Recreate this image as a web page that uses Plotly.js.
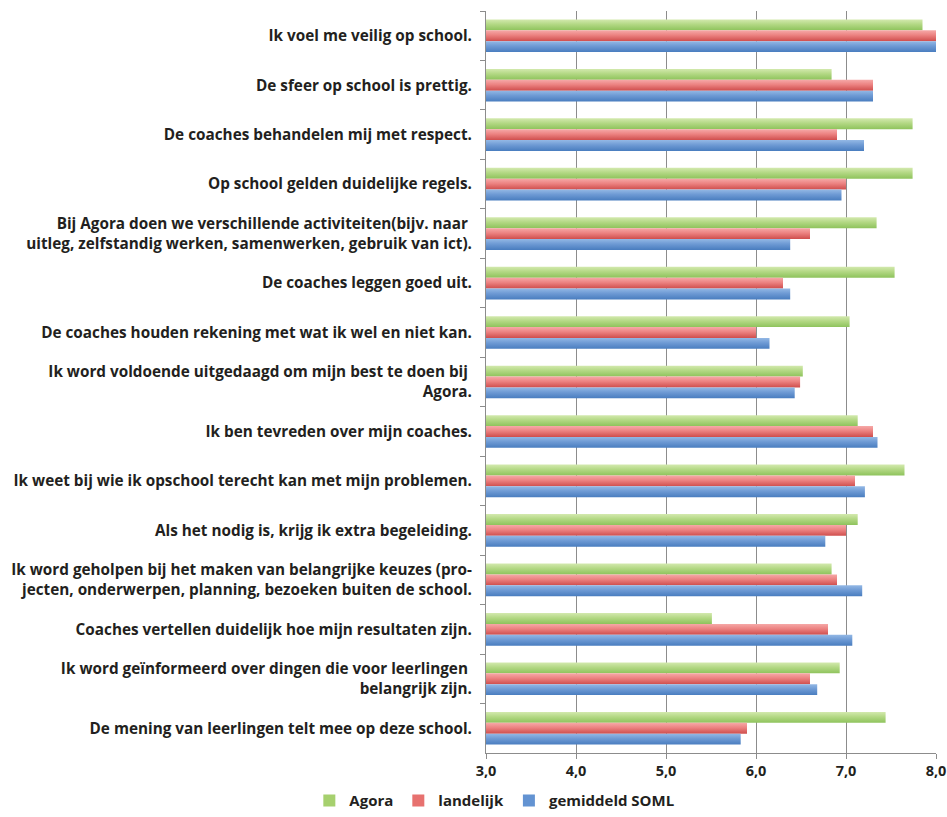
<!DOCTYPE html>
<html>
<head>
<meta charset="utf-8">
<script src="https://cdn.plot.ly/plotly-3.0.1.min.js"></script>
<style>html,body{margin:0;padding:0;background:#fff;}#chart{width:947px;height:817px;}</style>
</head>
<body>
<div id="chart"></div>
<script>
const categories = [
  "Ik voel me veilig op school.",
  "De sfeer op school is prettig.",
  "De coaches behandelen mij met respect.",
  "Op school gelden duidelijke regels.",
  "Bij Agora doen we verschillende activiteiten(bijv. naar <br>uitleg, zelfstandig werken, samenwerken, gebruik van ict).",
  "De coaches leggen goed uit.",
  "De coaches houden rekening met wat ik wel en niet kan.",
  "Ik word voldoende uitgedaagd om mijn best te doen bij <br>Agora.",
  "Ik ben tevreden over mijn coaches.",
  "Ik weet bij wie ik opschool terecht kan met mijn problemen.",
  "Als het nodig is, krijg ik extra begeleiding.",
  "Ik word geholpen bij het maken van belangrijke keuzes (pro-<br>jecten, onderwerpen, planning, bezoeken buiten de school.",
  "Coaches vertellen duidelijk hoe mijn resultaten zijn.",
  "Ik word geïnformeerd over dingen die voor leerlingen <br>belangrijk zijn.",
  "De mening van leerlingen telt mee op deze school."
];
const agora      = [7.85, 6.84, 7.74, 7.74, 7.34, 7.54, 7.04, 6.52, 7.13, 7.65, 7.13, 6.84, 5.51, 6.93, 7.44];
const landelijk  = [8.00, 7.30, 6.90, 7.00, 6.60, 6.30, 6.00, 6.49, 7.30, 7.10, 7.00, 6.90, 6.80, 6.60, 5.90];
const somlGem    = [8.00, 7.30, 7.20, 6.95, 6.38, 6.38, 6.15, 6.43, 7.35, 7.21, 6.77, 7.18, 7.07, 6.68, 5.83];
const seriesNames = ["Agora", "landelijk", "gemiddeld SOML"];
const xTickVals = [3, 4, 5, 6, 7, 8];
const xTickText = ["3,0", "4,0", "5,0", "6,0", "7,0", "8,0"];

const colors = ["#A6D06E", "#E7716F", "#6393D2"];
const gradStops = [
  ["#D3E9AE", "#B3D884", "#8EC35C"],
  ["#F6A9A8", "#EC8281", "#CF4E4D"],
  ["#93B8E5", "#6E9AD4", "#497DBF"]
];
const series = [agora, landelijk, somlGem];

const fam = "'Open Sans', 'Noto Sans', sans-serif";
const font = {family: fam, color: "#231F20", size: 15.3, weight: 700};

const data = series.map((vals, i) => ({
  type: "bar",
  orientation: "h",
  name: seriesNames[i],
  y: categories,
  x: vals,
  base: 0,
  marker: {color: colors[i], line: {width: 0}},
  hoverinfo: "x+name"
}));

const layout = {
  width: 947,
  height: 817,
  margin: {l: 486, r: 11, t: 11, b: 64},
  paper_bgcolor: "#fff",
  plot_bgcolor: "#fff",
  font: font,
  barmode: "group",
  bargap: 0.34,
  bargroupgap: 0,
  showlegend: true,
  legend: {
    orientation: "h",
    xref: "container", yref: "container",
    x: 0.522, y: 0.02,
    xanchor: "center", yanchor: "middle",
    font: {family: fam, size: 15, color: "#231F20", weight: 700},
    itemwidth: 30,
    traceorder: "normal"
  },
  xaxis: {
    range: [3, 8],
    tickvals: xTickVals,
    ticktext: xTickText,
    ticklabeloverflow: "allow",
    showgrid: true,
    gridcolor: "#8C8C8C",
    gridwidth: 1,
    showline: true,
    linecolor: "#8C8C8C",
    linewidth: 1,
    ticks: "outside",
    ticklen: 5,
    tickcolor: "#8C8C8C",
    tickfont: {family: fam, size: 14.5, color: "#231F20", weight: 700},
    zeroline: false,
    fixedrange: true
  },
  yaxis: {
    type: "category",
    autorange: "reversed",
    showgrid: false,
    showline: true,
    linecolor: "#8C8C8C",
    linewidth: 1,
    ticks: "outside",
    ticklen: 5,
    tickcolor: "#8C8C8C",
    tickson: "boundaries",
    ticklabelstandoff: 10,
    tickfont: {family: fam, size: 15.3, color: "#231F20", weight: 700},
    fixedrange: true
  }
};

function applyGradients(gd) {
  const svg = gd.querySelector("svg.main-svg");
  if (!svg) return;
  const ns = "http://www.w3.org/2000/svg";
  let defs = svg.querySelector("defs");
  if (!defs) { defs = document.createElementNS(ns, "defs"); svg.insertBefore(defs, svg.firstChild); }
  gradStops.forEach((stops, i) => {
    const id = "bargrad" + i;
    if (document.getElementById(id)) return;
    const lg = document.createElementNS(ns, "linearGradient");
    lg.setAttribute("id", id);
    lg.setAttribute("x1", "0"); lg.setAttribute("y1", "0");
    lg.setAttribute("x2", "0"); lg.setAttribute("y2", "1");
    [[0, stops[0]], [0.45, stops[1]], [1, stops[2]]].forEach(([o, c]) => {
      const s = document.createElementNS(ns, "stop");
      s.setAttribute("offset", o);
      s.setAttribute("stop-color", c);
      lg.appendChild(s);
    });
    defs.appendChild(lg);
  });
  const traces = gd.querySelectorAll(".barlayer .trace.bars");
  traces.forEach((t, i) => {
    t.querySelectorAll("path").forEach(p => { p.style.fill = "url(#bargrad" + i + ")"; });
  });
}

Plotly.newPlot("chart", data, layout, {displayModeBar: false, staticPlot: true}).then(gd => applyGradients(gd));
</script>
</body>
</html>
